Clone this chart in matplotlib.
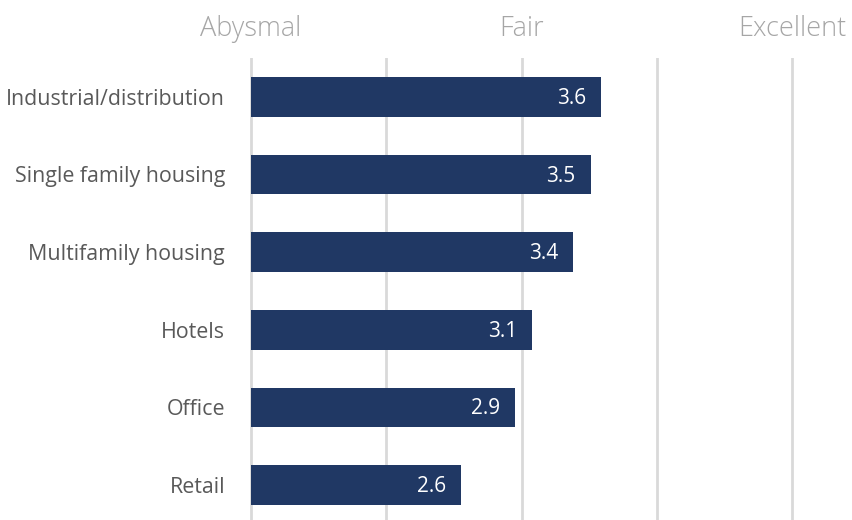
import matplotlib.pyplot as plt

categories = ["Industrial/distribution", "Single family housing", "Multifamily housing",
              "Hotels", "Office", "Retail"]
values = [3.59, 3.51, 3.38, 3.08, 2.95, 2.55]
value_labels = ["3.6", "3.5", "3.4", "3.1", "2.9", "2.6"]
scale_ticks = [1, 2, 3, 4, 5]
scale_labels = ["Abysmal", "", "Fair", "", "Excellent"]

plt.rcParams["font.family"] = ["Open Sans", "DejaVu Sans"]

fig = plt.figure(figsize=(8.52, 5.2), dpi=100)
ax = fig.add_axes([0.2788, 0.0, 0.6987, 462 / 520])

y = list(range(len(categories)))
ax.barh(y, [v - 1 for v in values], left=1, height=0.51, color="#203864", zorder=3)
for yi, v, lab in zip(y, values, value_labels):
    ax.text(v - 0.11, yi + 0.02, lab, ha="right", va="center", color="white", fontsize=15, zorder=4)

ax.set_xlim(0.9, 5.3)
ax.set_ylim(5.45, -0.5)
ax.set_yticks(y)
ax.set_yticklabels(categories, fontsize=15.4, color="#595959")
ax.tick_params(axis="y", length=0, pad=9)

ax.xaxis.tick_top()
ax.set_xticks(scale_ticks)
ax.set_xticklabels(scale_labels, fontsize=19.5, color="#a6a6a6", fontweight="light")
ax.tick_params(axis="x", length=0, pad=11)
ax.grid(axis="x", color="#d9d9d9", linewidth=2, zorder=0)

for s in ax.spines.values():
    s.set_visible(False)

fig.savefig("out.png", dpi=100)
